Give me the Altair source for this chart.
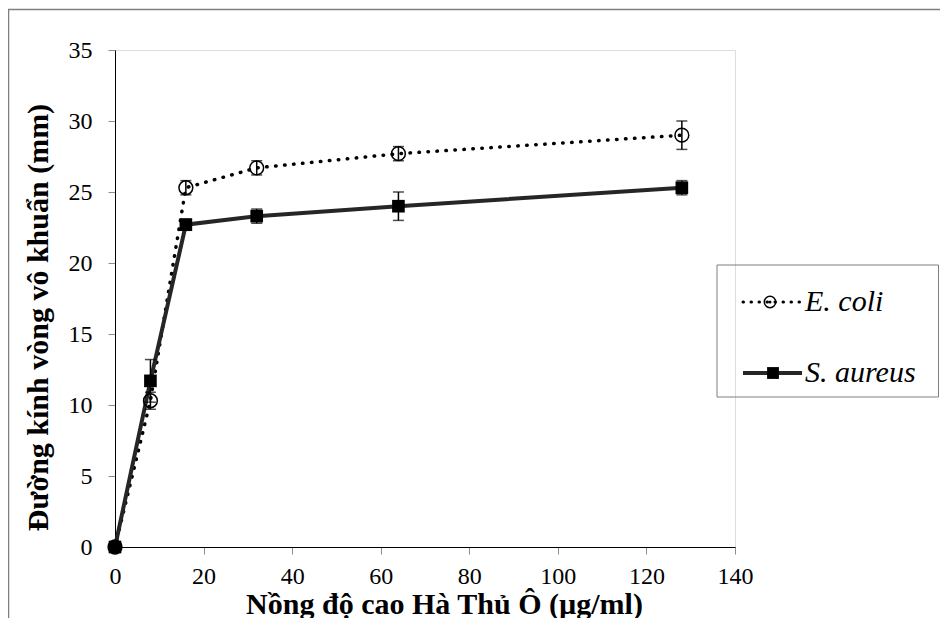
import altair as alt
import pandas as pd

# ---- data ----
conc = [0, 8, 16, 32, 64, 128]
ecoli = [0, 10.3, 25.3, 26.7, 27.7, 29.0]
ecoli_err = [0, 0.6, 0.5, 0.5, 0.5, 1.0]
saureus = [0, 11.7, 22.7, 23.3, 24.0, 25.3]
saureus_err = [0, 1.5, 0.4, 0.5, 1.0, 0.5]
series = ["E. coli", "S. aureus"]
x_ticks = [0, 20, 40, 60, 80, 100, 120, 140]
y_ticks = [0, 5, 10, 15, 20, 25, 30, 35]
x_title = "Nồng độ cao Hà Thủ Ô (µg/ml)"
y_title = "Đường kính vòng vô khuẩn (mm)"

rows = []
for s, vals, errs in [(series[0], ecoli, ecoli_err), (series[1], saureus, saureus_err)]:
    for c, v, e in zip(conc, vals, errs):
        rows.append({"series": s, "conc": c, "value": v, "lo": v - e, "hi": v + e})
df = pd.DataFrame(rows)
one = pd.DataFrame({"k": [0]})

FONT = "Liberation Serif"
W, H = 620, 497

x_axis = alt.Axis(values=x_ticks, title=x_title, grid=False, labelFlush=False,
                  domainColor="black", domainWidth=1,
                  tickColor="#8c8c8c", tickSize=7, tickWidth=1,
                  labelFont=FONT, labelFontSize=24, labelColor="black", labelPadding=10,
                  titleFont=FONT, titleFontSize=30, titleFontWeight="bold", titleColor="black",
                  titleX=329, titleY=66, titleBaseline="alphabetic", titleAlign="center")
y_axis = alt.Axis(values=y_ticks, title=y_title, grid=False, labelFlush=False,
                  domainColor="black", domainWidth=1,
                  tickColor="#8c8c8c", tickSize=7, tickWidth=1,
                  labelFont=FONT, labelFontSize=24, labelColor="black", labelPadding=16,
                  titleFont=FONT, titleFontSize=30, titleFontWeight="bold", titleColor="black",
                  titleX=-77, titleY=267, titleAngle=-90, titleAlign="center",
                  titleBaseline="middle")

X = alt.X("conc:Q", scale=alt.Scale(domain=[0, 140], nice=False, zero=False), axis=x_axis)
Y = alt.Y("value:Q", scale=alt.Scale(domain=[0, 35], nice=False), axis=y_axis)
Ylo = alt.Y("lo:Q", scale=alt.Scale(domain=[0, 35], nice=False), axis=y_axis)
Yhi = alt.Y("hi:Q", scale=alt.Scale(domain=[0, 35], nice=False), axis=y_axis)

base = alt.Chart(df)
ec = base.transform_filter(alt.datum.series == series[0])
sa = base.transform_filter(alt.datum.series == series[1])

frame = alt.Chart(one).mark_rect(filled=False, stroke="#7f7f7f", strokeWidth=1.5).encode(
    x=alt.value(-106.5), x2=alt.value(900), y=alt.value(-40.5), y2=alt.value(700))

line_ec = ec.mark_line(color="black", strokeWidth=3.5, strokeDash=[0.5, 8.5],
                       strokeCap="round").encode(x=X, y=Y)
line_sa = sa.mark_line(color="#262626", strokeWidth=4).encode(x=X, y=Y)

err_rule = base.mark_rule(color="black", strokeWidth=1.5).encode(x=X, y=Ylo, y2="hi:Q")
cap_lo = base.mark_tick(orient="horizontal", color="black", size=11, thickness=1.5).encode(x=X, y=Ylo)
cap_hi = base.mark_tick(orient="horizontal", color="black", size=11, thickness=1.5).encode(x=X, y=Yhi)

pt_ec = ec.mark_point(shape="circle", size=190, filled=False, color="black",
                      strokeWidth=1.5, opacity=1).encode(x=X, y=Y)
pt_sa = sa.mark_point(shape="square", size=160, filled=True, color="black",
                      opacity=1).encode(x=X, y=Y)

# ---- legend drawn by hand ----
leg_df = pd.DataFrame({"series": series})
lx0, ly0 = 602, 215
r1, r2 = 252, 323
leg_box = alt.Chart(one).mark_rect(filled=False, stroke="#7f7f7f", strokeWidth=1).encode(
    x=alt.value(lx0), x2=alt.value(823.5), y=alt.value(ly0), y2=alt.value(ly0 + 132))
leg_l1 = alt.Chart(one).mark_rule(color="black", strokeWidth=3, strokeDash=[0.5, 7.5],
                                  strokeCap="round").encode(
    x=alt.value(628), x2=alt.value(688), y=alt.value(r1))
leg_p1 = alt.Chart(one).mark_point(shape="circle", size=130, filled=False, color="black",
                                   strokeWidth=1.5, opacity=1).encode(
    x=alt.value(655), y=alt.value(r1))
leg_c1 = alt.Chart(one).mark_point(shape="circle", size=9, filled=True, color="black",
                                   opacity=1).encode(x=alt.value(655), y=alt.value(r1))
leg_t1 = alt.Chart(leg_df).transform_filter(alt.datum.series == series[0]).mark_text(
    font=FONT, fontSize=30, fontStyle="italic", align="left", baseline="middle",
    color="black").encode(x=alt.value(690), y=alt.value(r1), text="series:N")
leg_l2 = alt.Chart(one).mark_rule(color="#262626", strokeWidth=4).encode(
    x=alt.value(628), x2=alt.value(687), y=alt.value(r2))
leg_p2 = alt.Chart(one).mark_point(shape="square", size=140, filled=True, color="black",
                                   opacity=1).encode(x=alt.value(658), y=alt.value(r2))
leg_t2 = alt.Chart(leg_df).transform_filter(alt.datum.series == series[1]).mark_text(
    font=FONT, fontSize=30, fontStyle="italic", align="left", baseline="middle",
    color="black").encode(x=alt.value(690), y=alt.value(r2), text="series:N")

chart = alt.layer(
    line_ec, line_sa, err_rule, cap_lo, cap_hi, pt_ec, pt_sa,
    frame, leg_box, leg_l1, leg_p1, leg_c1, leg_t1, leg_l2, leg_p2, leg_t2,
).properties(
    width=W, height=H,
    autosize=alt.AutoSizeParams(type="none"),
    padding={"left": 107, "top": 42, "right": 205, "bottom": 71},
).configure_view(stroke=None).configure(background="white")

chart.save("out.html", embed_options={"renderer": "svg", "actions": False})
